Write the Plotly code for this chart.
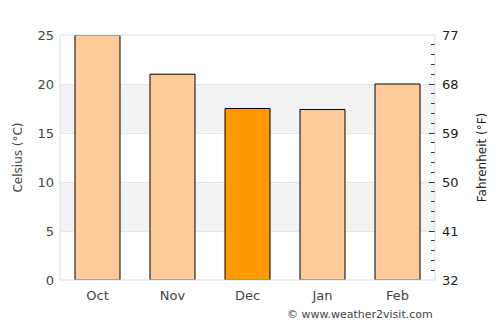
import plotly.graph_objects as go

months = ["Oct", "Nov", "Dec", "Jan", "Feb"]
celsius = [25, 21, 17.5, 17.4, 20]
bar_colors = ["#FFCC99", "#FFCC99", "#FF9900", "#FFCC99", "#FFCC99"]
c_ticks = [0, 5, 10, 15, 20, 25]
f_ticks = [32, 41, 50, 59, 68, 77]
bands = [(5, 10), (15, 20)]

fig = go.Figure()
fig.add_trace(go.Bar(x=months, y=celsius, marker=dict(color=bar_colors, line=dict(color="black", width=1)),
                     width=0.6, hoverinfo="skip"))
# invisible trace for right axis
fig.add_trace(go.Scatter(x=months, y=[c * 9 / 5 + 32 for c in celsius], yaxis="y2",
                         mode="markers", marker=dict(opacity=0), hoverinfo="skip", showlegend=False))

shapes = []
for lo, hi in bands:
    shapes.append(dict(type="rect", xref="paper", yref="y", x0=0, x1=1, y0=lo, y1=hi,
                       fillcolor="#F3F3F3", line=dict(width=0), layer="below"))
shapes.append(dict(type="rect", xref="paper", yref="paper", x0=0, x1=1, y0=0, y1=1,
                   line=dict(color="#DDDDDD", width=1), layer="above"))

font_color = "#444444"
fig.update_layout(
    width=500, height=325,
    margin=dict(l=60, r=65, t=35, b=45),
    paper_bgcolor="white", plot_bgcolor="white",
    showlegend=False,
    font=dict(family="DejaVu Sans", color=font_color, size=13),
    shapes=shapes,
    bargap=0.4,
    xaxis=dict(showgrid=False, zeroline=False, showline=False, ticks="",
               ticklabelstandoff=6,
               tickfont=dict(size=13, color=font_color)),
    yaxis=dict(range=[0, 25], tickvals=c_ticks, showgrid=True, gridcolor="#E6E6E6",
               zeroline=False, showline=False, ticks="", ticklabelstandoff=5,
               title=dict(text="Celsius (°C)", font=dict(size=12, color=font_color), standoff=12),
               tickfont=dict(size=13, color=font_color)),
    yaxis2=dict(range=[32, 77], tickvals=f_ticks, overlaying="y", side="right",
                showgrid=False, zeroline=False, showline=False,
                ticks="inside", ticklen=6, tickcolor="#333333", tickwidth=1,
                ticklabelstandoff=6,
                minor=dict(tick0=32, dtick=1.8, ticks="inside", ticklen=4, tickcolor="#333333", tickwidth=1),
                title=dict(text="Fahrenheit (°F)", font=dict(size=12, color="#222222"), standoff=20),
                tickfont=dict(size=13, color="#222222")),
    annotations=[dict(text="© www.weather2visit.com", xref="paper", yref="paper", x=1, y=0,
                      xanchor="right", yanchor="top", yshift=-26, showarrow=False,
                      font=dict(size=11, color=font_color))],
)

fig.write_html("out.html")
